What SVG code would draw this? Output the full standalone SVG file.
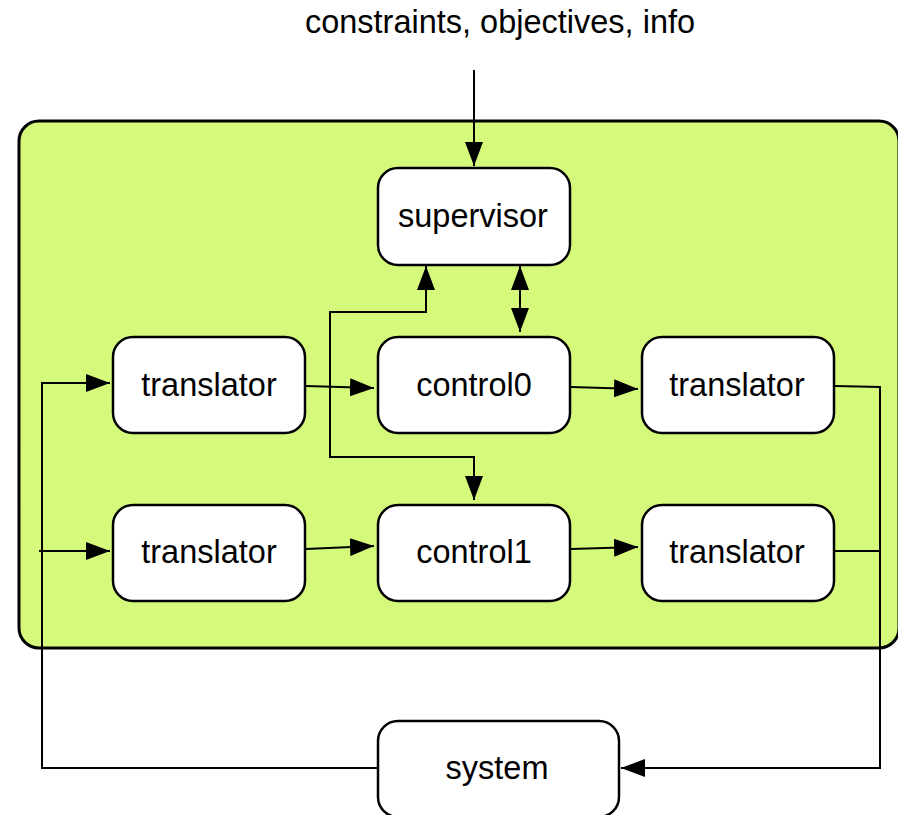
<svg xmlns="http://www.w3.org/2000/svg" width="898" height="815" viewBox="0 0 898 815">
  <style>
    .node { fill: #ffffff; stroke: #000000; stroke-width: 2.5; }
    .label { font-family: "Liberation Sans", Arial, sans-serif; font-size: 32.5px; fill: #000000; text-anchor: middle; }
    .wire { fill: none; stroke: #000000; stroke-width: 2; }
  </style>
  <defs>
    <marker id="arrow" viewBox="0 0 24 18" refX="24" refY="9" markerWidth="24" markerHeight="18" markerUnits="userSpaceOnUse" orient="auto-start-reverse">
      <path d="M0,0 L24,9 L0,18 Z" fill="#000000"/>
    </marker>
  </defs>

  <rect width="898" height="815" fill="#ffffff"/>

  <!-- controller container -->
  <g id="controller">
    <rect x="19" y="121" width="880" height="527" rx="20" ry="20" fill="#d5fa7b" stroke="#000000" stroke-width="3"/>
  </g>

  <text class="label" x="500" y="33">constraints, objectives, info</text>

  <!-- connectors -->
  <g id="connectors">
    <line class="wire" x1="474" y1="70" x2="474" y2="166" marker-end="url(#arrow)"/>
    <line class="wire" x1="520" y1="266" x2="520" y2="332" marker-start="url(#arrow)" marker-end="url(#arrow)"/>
    <polyline class="wire" points="426,266 426,312 330,312 330,457 474,457 474,500" marker-start="url(#arrow)" marker-end="url(#arrow)"/>
    <line class="wire" x1="306" y1="386" x2="374" y2="388" marker-end="url(#arrow)"/>
    <line class="wire" x1="571" y1="387" x2="638" y2="389" marker-end="url(#arrow)"/>
    <line class="wire" x1="306" y1="549" x2="374" y2="546" marker-end="url(#arrow)"/>
    <line class="wire" x1="571" y1="549" x2="638" y2="547" marker-end="url(#arrow)"/>
    <polyline class="wire" points="835,386 880,387 880,768 621,768" marker-end="url(#arrow)"/>
    <line class="wire" x1="835" y1="551" x2="880" y2="551"/>
    <polyline class="wire" points="377,768 42,768 42,383 110,383" marker-end="url(#arrow)"/>
    <line class="wire" x1="39" y1="551" x2="110" y2="551" marker-end="url(#arrow)"/>
  </g>

  <g id="supervisor">
    <rect class="node" x="378" y="168" width="192" height="97" rx="20" ry="20"/>
    <text class="label" x="473" y="227">supervisor</text>
  </g>
  <g id="translator-in-0">
    <rect class="node" x="113" y="337" width="192" height="96" rx="20" ry="20"/>
    <text class="label" x="209" y="396">translator</text>
  </g>
  <g id="control0">
    <rect class="node" x="378" y="337" width="192" height="96" rx="20" ry="20"/>
    <text class="label" x="474" y="396">control0</text>
  </g>
  <g id="translator-out-0">
    <rect class="node" x="642" y="337" width="192" height="96" rx="20" ry="20"/>
    <text class="label" x="737" y="396">translator</text>
  </g>
  <g id="translator-in-1">
    <rect class="node" x="113" y="505" width="192" height="96" rx="20" ry="20"/>
    <text class="label" x="209" y="563">translator</text>
  </g>
  <g id="control1">
    <rect class="node" x="378" y="505" width="192" height="96" rx="20" ry="20"/>
    <text class="label" x="474" y="563">control1</text>
  </g>
  <g id="translator-out-1">
    <rect class="node" x="642" y="505" width="192" height="96" rx="20" ry="20"/>
    <text class="label" x="737" y="563">translator</text>
  </g>
  <g id="system">
    <rect class="node" x="378" y="721" width="241" height="96" rx="20" ry="20"/>
    <text class="label" x="497" y="779">system</text>
  </g>
</svg>
